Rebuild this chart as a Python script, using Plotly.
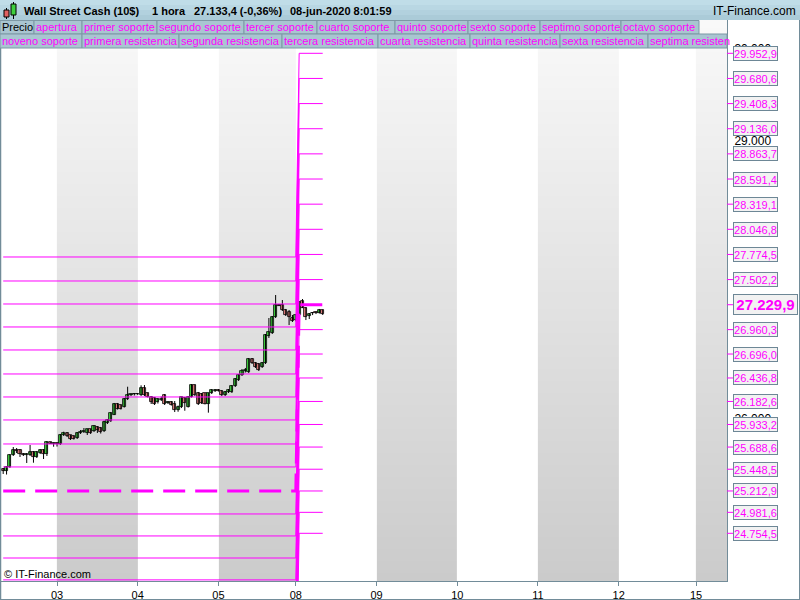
import plotly.graph_objects as go

W, H = 800, 600

# ---------------- data ----------------
# hourly candles, index 0 = 02-jun 08:00 (x axis is the candle index, no weekend gap)
opens = [25451, 25429, 25472, 25602, 25662, 25657, 25613, 25608, 25606, 25638, 25581, 25624, 25657, 25613, 25738, 25727,
         25727, 25722, 25816, 25841, 25814, 25808, 25787, 25841, 25857, 25844, 25879, 25862, 25911, 25895, 25862, 25946,
         25971, 26039, 26155, 26144, 26125, 26209, 26252, 26258,
         26263, 26249, 26328, 26271, 26231, 26220, 26176, 26203, 26252, 26166, 26176, 26160, 26090, 26122, 26220, 26125,
         26234, 26360, 26274, 26263, 26269, 26155, 26274, 26301,
         26306, 26299, 26252, 26285, 26285, 26350, 26415, 26469, 26512, 26501, 26642, 26599, 26585, 26555, 26596, 26891,
         26920, 27094, 27227, 27227, 27173, 27154, 27086,
         27064, 27120, 27270, 27194, 27105, 27137, 27144, 27144, 27178]
highs = [25462, 25483, 25613, 25689, 25678, 25667, 25624, 25624, 25711, 25646, 25646, 25667, 25667, 25754, 25743, 25738,
         25738, 25830, 25855, 25851, 25819, 25814, 25851, 25873, 25895, 25884, 25884, 25927, 25916, 25906, 25976, 25992,
         26068, 26166, 26166, 26149, 26220, 26342, 26268, 26274,
         26274, 26357, 26360, 26279, 26241, 26231, 26220, 26236, 26263, 26187, 26187, 26187, 26138, 26230, 26230, 26241,
         26371, 26366, 26285, 26274, 26274, 26274, 26317, 26317,
         26317, 26306, 26296, 26317, 26360, 26436, 26480, 26534, 26545, 26653, 26653, 26610, 26599, 26610, 26913, 27086,
         27108, 27335, 27238, 27281, 27184, 27173, 27119,
         27130, 27270, 27292, 27205, 27140, 27151, 27157, 27184, 27178]
lows = [25397, 25391, 25462, 25592, 25624, 25581, 25592, 25516, 25592, 25519, 25570, 25613, 25559, 25592, 25722, 25692,
        25694, 25711, 25808, 25797, 25765, 25770, 25776, 25830, 25841, 25819, 25830, 25851, 25841, 25835, 25851, 25938,
        25960, 26036, 26095, 26095, 26117, 26198, 26241, 26247,
        26252, 26241, 26241, 26225, 26155, 26144, 26160, 26187, 26144, 26155, 26138, 26068, 26071, 26111, 26082, 26117,
        26225, 26241, 26144, 26155, 26150, 26061, 26263, 26285,
        26290, 26241, 26241, 26274, 26274, 26339, 26404, 26458, 26496, 26490, 26588, 26545, 26512, 26545, 26588, 26870,
        26913, 27086, 27216, 27162, 27108, 27010, 27043,
        27050, 27110, 27194, 27064, 27075, 27118, 27129, 27135, 27119]
closes = [25424, 25472, 25602, 25662, 25651, 25613, 25608, 25613, 25638, 25577, 25635, 25657, 25613, 25743, 25727, 25727,
          25722, 25816, 25837, 25808, 25779, 25779, 25844, 25855, 25862, 25881, 25844, 25916, 25873, 25851, 25963, 25981,
          26054, 26155, 26104, 26106, 26209, 26252, 26258, 26263,
          26260, 26328, 26252, 26234, 26176, 26155, 26209, 26209, 26155, 26171, 26147, 26090, 26125, 26227, 26166, 26230,
          26360, 26249, 26155, 26166, 26155, 26271, 26306, 26306,
          26301, 26249, 26285, 26306, 26350, 26425, 26469, 26515, 26528, 26642, 26596, 26552, 26523, 26599, 26902, 26938,
          27100, 27227, 27221, 27173, 27119, 27100, 27057,
          27120, 27260, 27198, 27100, 27126, 27140, 27140, 27173, 27133]

day_labels = ["03", "04", "05", "08", "09", "10", "11", "12", "15"]
day_starts = [16, 40, 64, 87, 111, 135, 159, 183, 206]
shaded_days = ["03", "05", "09", "11", "15"]

# weekly pivot levels: previous week / current week
prev_apertura = 25213
prev_resist = [25473, 25722, 25982, 26231, 26480, 26740, 26989, 27238, 27487, 27747]
prev_soporte = [24964, 24726, 24487, 24250, 24015, 23785, 23555, 23330, 23105, 22885]
cur_apertura = 27229.9
cur_resist = [27502.2, 27774.5, 28046.8, 28319.1, 28591.4, 28863.7, 29136.0, 29408.3, 29680.6, 29952.9]
cur_soporte = [26960.3, 26696.0, 26436.8, 26182.6, 25933.2, 25688.6, 25448.5, 25212.9, 24981.6, 24754.5]
switch_index = 88  # first candle using the new week's levels

y_ticks = [26000, 29000, 30000]

header_texts = ["Wall Street Cash (10$)", "1 hora", "27.133,4 (-0,36%)", "08-jun-2020 8:01:59"]
legend_row1 = ["Precio", "apertura", "primer soporte", "segundo soporte", "tercer soporte", "cuarto soporte",
               "quinto soporte", "sexto soporte", "septimo soporte", "octavo soporte"]
legend_row2 = ["noveno soporte", "primera resistencia", "segunda resistencia", "tercera resistencia",
               "cuarta resistencia", "quinta resistencia", "sexta resistencia", "septima resisten"]

# ---------------- layout constants (pixels) ----------------
PL, PR, PT, PB = 1, 727, 20, 581
X_RANGE = [-0.65, 215.2]
Y_RANGE = [24238.0, 30313.5]
row1_edges = [0, 34, 82, 157, 244, 317, 395, 468, 540, 621, 699]
row2_edges = [0, 82, 179, 282, 378, 470, 560, 648, 727]
header_x = [23, 151, 193, 289]
MAG = "#ff00ff"
FRAME = "#728c99"
FONT = "Liberation Sans, Arial, sans-serif"
BODY_W = 0.92
MIN_BODY = 8


def fx(px):
    return px / W


def fy(py):
    return 1 - py / H


def fmt(v, dec=1):
    s = f"{v:,.{dec}f}"
    return s.replace(",", "X").replace(".", ",").replace("X", ".")


n = len(closes)
idx = list(range(n))

fig = go.Figure()

# background day bands with vertical gradient (heatmap)
x_edges = [-1] + day_starts + [day_starts[-1] + 24]
all_days = ["02"] + day_labels
nrows = 140
y_edges = [Y_RANGE[0] + (Y_RANGE[1] - Y_RANGE[0]) * k / nrows for k in range(nrows + 1)]
z = []
for r in range(nrows):
    frac = (r + 0.5) / nrows
    z.append([frac if d in shaded_days else None for d in all_days])
fig.add_trace(go.Heatmap(x=x_edges, y=y_edges, z=z, zmin=0, zmax=1,
                         colorscale=[[0, "#cbcbcb"], [1, "#f9f9f9"]], showscale=False,
                         hoverinfo="skip"))

# candles: wicks + bodies
wx, wy = [], []
for i in idx:
    wx += [i, i, None]
    wy += [lows[i], highs[i], None]
fig.add_trace(go.Scatter(x=wx, y=wy, mode="lines", line=dict(color="black", width=1),
                         hoverinfo="skip", showlegend=False))
base = [min(o, c) for o, c in zip(opens, closes)]
height = [max(abs(c - o), MIN_BODY) for o, c in zip(opens, closes)]
colors = ["#40d840" if c >= o else "#e88080" for o, c in zip(opens, closes)]
fig.add_trace(go.Bar(x=idx, y=height, base=base, width=BODY_W, marker=dict(color=colors,
                     line=dict(color="black", width=0.8)), showlegend=False, hoverinfo="skip"))

# level lines
lx = [0, switch_index - 1, switch_index, n - 1]
pairs = list(zip(prev_resist, cur_resist)) + list(zip(prev_soporte, cur_soporte))
for p, c in pairs:
    fig.add_trace(go.Scatter(x=lx, y=[p, p, c, c], mode="lines",
                             line=dict(color=MAG, width=1), showlegend=False, hoverinfo="skip"))
fig.add_trace(go.Scatter(x=lx, y=[prev_apertura, prev_apertura, cur_apertura, cur_apertura], mode="lines",
                         line=dict(color=MAG, width=3, dash="22px,10px"), showlegend=False, hoverinfo="skip"))

shapes = []
annotations = []

# level labels on the right axis
for v in cur_resist + cur_soporte:
    shapes.append(dict(type="line", xref="paper", yref="y", x0=fx(727), x1=fx(733), y0=v, y1=v,
                       line=dict(color=MAG, width=1)))
    annotations.append(dict(xref="paper", yref="y", x=fx(733), y=v, xanchor="left", yanchor="middle",
                            text=fmt(v), showarrow=False, font=dict(family=FONT, size=11, color=MAG),
                            bgcolor="#f2f2f2", bordercolor="#6d8796", borderwidth=1, borderpad=0,
                            width=43, height=13, align="center"))
shapes.append(dict(type="line", xref="paper", yref="y", x0=fx(727), x1=fx(733), y0=cur_apertura,
                   y1=cur_apertura, line=dict(color=MAG, width=1)))
annotations.append(dict(xref="paper", yref="y", x=fx(733), y=cur_apertura, xanchor="left", yanchor="middle",
                        text=fmt(cur_apertura), showarrow=False,
                        font=dict(family=FONT, size=15, color=MAG, weight="bold"),
                        bgcolor="#f2f2f2", bordercolor="#6d8796", borderwidth=1, borderpad=0,
                        width=63, height=19, align="center"))

# frame lines
shapes.append(dict(type="line", xref="paper", yref="paper", x0=fx(0.5), x1=fx(0.5), y0=0, y1=fy(20),
                   line=dict(color=FRAME, width=1.5)))
shapes.append(dict(type="line", xref="paper", yref="paper", x0=fx(799.5), x1=fx(799.5), y0=0, y1=1,
                   line=dict(color=FRAME, width=1)))
shapes.append(dict(type="line", xref="paper", yref="paper", x0=0, x1=1, y0=fy(599.5), y1=fy(599.5),
                   line=dict(color=FRAME, width=1)))

# header bar
hdr_cols = ["#c0dde8", "#b9d7e3", "#b2d1de", "#abcbd8"]
for k, col in enumerate(hdr_cols):
    shapes.append(dict(type="rect", xref="paper", yref="paper", x0=0, x1=1,
                       y0=fy(k * 5), y1=fy(k * 5 + 5), fillcolor=col, line=dict(width=0), layer="above"))

# header icon
shapes += [
    dict(type="line", xref="paper", yref="paper", x0=fx(6.5), x1=fx(6.5), y0=fy(8), y1=fy(19),
         line=dict(color="black", width=1)),
    dict(type="rect", xref="paper", yref="paper", x0=fx(4), x1=fx(9), y0=fy(10), y1=fy(17),
         fillcolor="#e06060", line=dict(color="black", width=1)),
    dict(type="line", xref="paper", yref="paper", x0=fx(13.5), x1=fx(13.5), y0=fy(2), y1=fy(19),
         line=dict(color="black", width=1)),
    dict(type="rect", xref="paper", yref="paper", x0=fx(11), x1=fx(16), y0=fy(4), y1=fy(15),
         fillcolor="#3fcf3f", line=dict(color="black", width=1)),
]
for t, x in zip(header_texts, header_x):
    annotations.append(dict(xref="paper", yref="paper", x=fx(x), y=fy(11), xanchor="left", yanchor="middle",
                            text=t, showarrow=False, borderpad=0,
                            font=dict(family=FONT, size=11, color="black", weight="bold")))
annotations.append(dict(xref="paper", yref="paper", x=fx(797), y=fy(11), xanchor="right", yanchor="middle",
                        text="IT-Finance.com", showarrow=False, borderpad=0,
                        font=dict(family=FONT, size=12, color="black")))


# legend rows
def legend_row(labels, edges, ytop, ybot):
    for i, lab in enumerate(labels):
        x0, x1 = edges[i], edges[i + 1]
        shapes.append(dict(type="rect", xref="paper", yref="paper", x0=fx(x0), x1=fx(x1), y0=fy(ytop),
                           y1=fy(ybot), fillcolor="#a9c5d1", line=dict(color="#7d98a5", width=1),
                           layer="above"))
        annotations.append(dict(xref="paper", yref="paper", x=fx(x0 + 1), y=fy((ytop + ybot) / 2),
                                xanchor="left", yanchor="middle", text=lab, showarrow=False, borderpad=0,
                                font=dict(family=FONT, size=11, color="black" if lab == "Precio" else MAG)))


legend_row(legend_row1, row1_edges, 20.5, 34)
legend_row(legend_row2, row2_edges, 34, 48)

annotations.append(dict(xref="paper", yref="paper", x=fx(3), y=fy(574), xanchor="left", yanchor="middle",
                        text="© IT-Finance.com", showarrow=False, borderpad=0,
                        font=dict(family=FONT, size=11, color="black")))

fig.update_layout(
    width=W, height=H,
    margin=dict(l=0, r=0, t=0, b=0, autoexpand=False),
    paper_bgcolor="white", plot_bgcolor="white",
    separators=",.",
    showlegend=False,
    bargap=0,
    shapes=shapes, annotations=annotations,
    font=dict(family=FONT, size=11, color="black"),
    xaxis=dict(domain=[fx(PL), fx(PR)], range=X_RANGE, showgrid=False, zeroline=False,
               tickmode="array", tickvals=day_starts, ticktext=day_labels,
               ticks="outside", ticklen=4, tickcolor=FRAME, showline=True, linecolor=FRAME, linewidth=1,
               tickfont=dict(family=FONT, size=11, color="black"), automargin=False),
    yaxis=dict(domain=[1 - PB / H, 1 - PT / H], range=Y_RANGE, side="right", showgrid=False, zeroline=False,
               tickmode="array", tickvals=y_ticks, tickformat=",.0f", ticks="outside", ticklen=4,
               tickcolor="rgba(0,0,0,0)", showline=True, linecolor=FRAME, linewidth=1,
               tickfont=dict(family=FONT, size=12, color="black"), automargin=False),
)

fig.write_html("out.html", config={"displayModeBar": False},
               post_script="document.body.style.margin='0px';document.body.style.overflow='hidden';")
